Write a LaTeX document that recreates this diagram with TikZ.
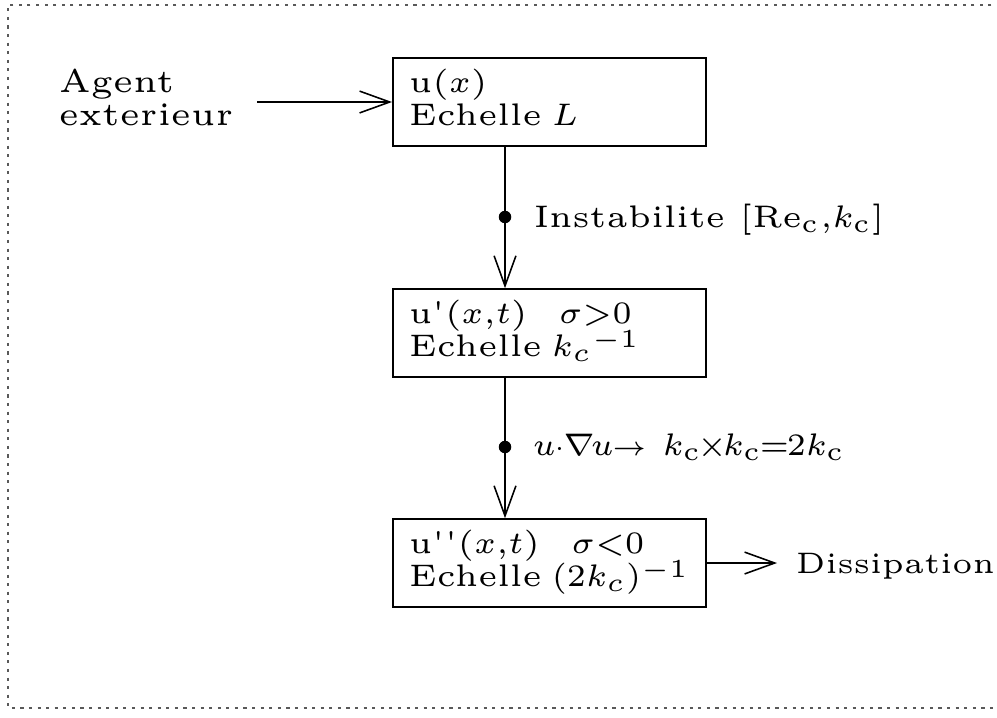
\documentclass[tikz,border=0pt]{standalone}
\usepackage{fontspec}
\newfontfamily\lmfive{lmroman5-regular}[Extension=.otf]
\usetikzlibrary{arrows.meta}
\newcommand\lowsup[1]{\raisebox{-0.9pt}{$\scriptstyle #1$}}
\begin{document}
\begin{tikzpicture}[x=0.1923pt,y=-0.1923pt,
  line width=0.3pt,
  agentfont/.style={font={\fontsize{6.3}{6.35}\lmfive}},
  boxfont/.style={font={\fontsize{6}{6.35}\lmfive}},
  labfont/.style={font={\fontsize{#1}{6}\lmfive}},
  tightlines/.style={execute at begin node={\baselineskip=6.35pt\lineskiplimit=-10pt\lineskip=0pt}},
  box/.style={draw, rectangle, anchor=base west, align=left, text width=54.04pt,
    inner xsep=3.08pt, inner ysep=0pt, boxfont, tightlines, text height=6.54pt, text depth=10.38pt},
  arr/.style={-{Straight Barb[length=5.8pt,width=4.2pt]}},
  blob/.style={circle, fill, inner sep=0pt, minimum size=2.4pt},
  frame/.style={draw=black!65, line width=0.4pt, dash pattern=on 0.6pt off 1.05pt}]
\useasboundingbox (0,0) rectangle (997,717);
\draw[frame] (1000,5) -- (8,5) -- (8,708) -- (1000,708);
\node[box] (b1) at (392,92) {u($x$)\\Echelle $L$};
\node[box] (b2) at (392,323) {u'($x$,$t$)\quad$\sigma{>}0$\\Echelle $k_c{}^{\lowsup{-1}}$};
\node[box] (b3) at (392,553) {u'{}'($x$,$t$)\quad$\sigma{<}0$\\Echelle $(2k_c)^{\lowsup{-1}}$};
\node[agentfont, tightlines, align=left, anchor=base west, text width=34.6pt, inner sep=0pt] (agent) at (58,92)
  {Agent\\exterieur};
\coordinate (a0) at (257,102);
\draw[arr] (a0) -- (a0 -| b1.west);
\node[blob] (d1) at (505,217) {};
\node[blob] (d2) at (505,447) {};
\draw[arr] (b1.south -| d1) -- (b2.north -| d1);
\draw[arr] (b2.south -| d2) -- (b3.north -| d2);
\node[labfont=6, anchor=base west, inner sep=0pt] (l1) at (533,227)
  {Instabilite [Re$_{\rm c}$,$k_{\rm c}$]};
\node[labfont=6, anchor=base west, inner sep=0pt] (l2) at (532,455)
  {$u\mkern-1mu{\scriptstyle\cdot}\mkern-1mu\nabla\mkern-2mu u\mkern-1mu{\scriptscriptstyle\rightarrow}$\hspace{3pt}$k_{\rm c}\mkern-2mu{\times}\mkern-2mu k_{\rm c}\mkern-1mu{=}\mkern-1mu2k_{\rm c}$};
\coordinate (e0) at (777,563);
\draw[arr] (b3.east |- e0) -- (e0);
\node[labfont=5.7, anchor=base west, inner sep=0pt] (diss) at (795,573) {Dissipation};
\end{tikzpicture}
\end{document}
